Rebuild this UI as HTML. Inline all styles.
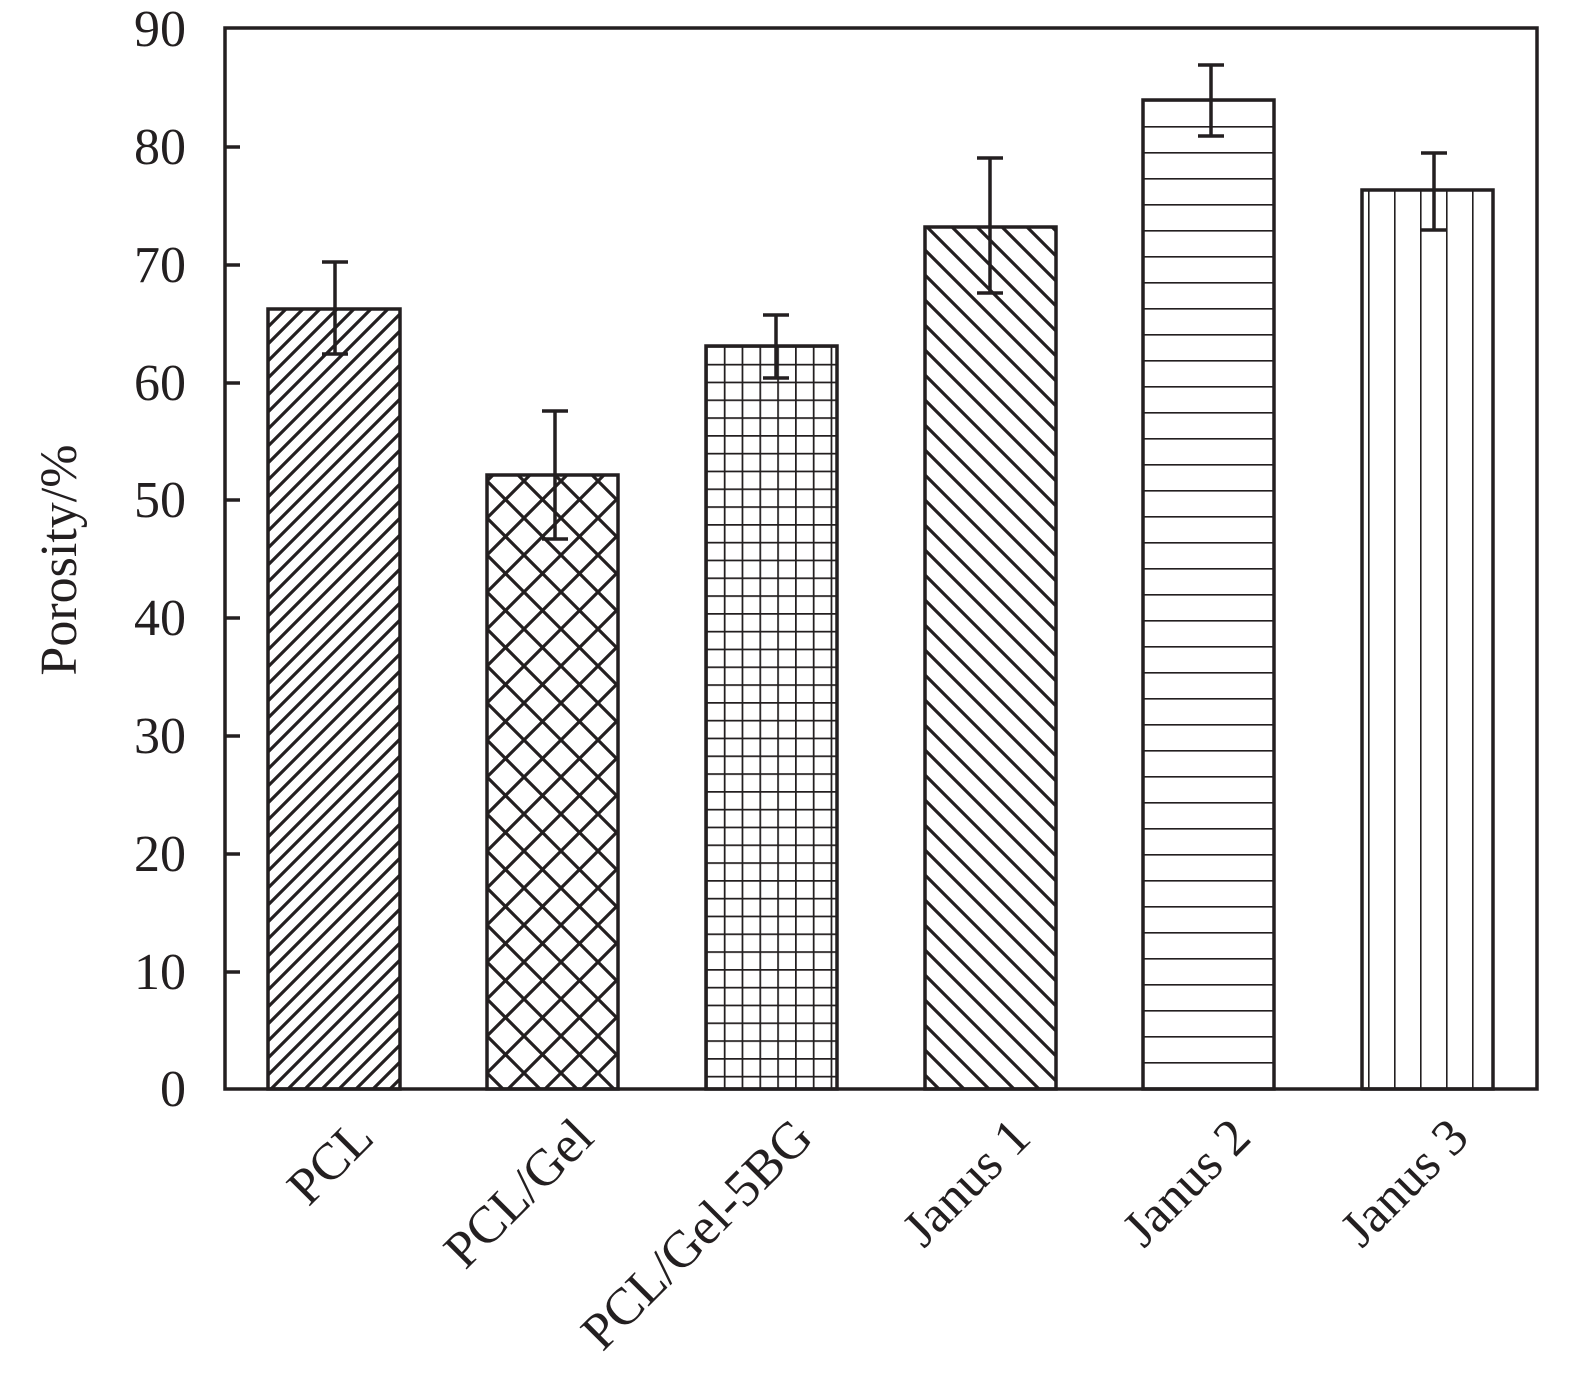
<!DOCTYPE html>
<html><head><style>body{margin:0;background:#fff}svg{display:block}</style></head>
<body>
<svg width="1575" height="1380" viewBox="0 0 1575 1380" xmlns="http://www.w3.org/2000/svg" font-family="Liberation Serif, serif" fill="#231f20">
<defs>
<pattern id="p1" patternUnits="userSpaceOnUse" width="17" height="17"><path d="M-2,19 L19,-2 M-2,2 L2,-2 M15,19 L19,15" stroke="#231f20" stroke-width="3.2"/></pattern>
<pattern id="p2" patternUnits="userSpaceOnUse" width="37" height="37" x="487" y="0"><path d="M0,0 L37,37 M37,0 L0,37" stroke="#231f20" stroke-width="3.2"/></pattern>
<pattern id="p3" patternUnits="userSpaceOnUse" width="17.8" height="17.8" x="706" y="346"><path d="M0,0 H17.8 M0,0 V17.8" stroke="#231f20" stroke-width="3.5" fill="none"/></pattern>
<pattern id="p4" patternUnits="userSpaceOnUse" width="25" height="25" x="925"><path d="M-2,-2 L27,27 M-2,23 L2,27 M23,-2 L27,2" stroke="#231f20" stroke-width="3.2"/></pattern>
<pattern id="p5" patternUnits="userSpaceOnUse" width="100" height="26" y="100"><path d="M0,0 H100" stroke="#231f20" stroke-width="3.2"/></pattern>
<pattern id="p6" patternUnits="userSpaceOnUse" width="26" height="100" x="1368"><path d="M0,0 V100" stroke="#231f20" stroke-width="3.2"/></pattern>
</defs>
<g stroke="#231f20" stroke-width="3.5">
<rect x="268" y="309" width="132" height="780" fill="url(#p1)"/>
<rect x="487" y="475" width="131" height="614" fill="url(#p2)"/>
<rect x="706" y="346" width="131" height="743" fill="url(#p3)"/>
<rect x="925" y="227" width="131" height="862" fill="url(#p4)"/>
<rect x="1143" y="100" width="131" height="989" fill="url(#p5)"/>
<rect x="1362" y="190" width="131" height="899" fill="url(#p6)"/>
<rect x="225" y="28" width="1312" height="1061" fill="none"/>
<path d="M335,262V354M322,262H348M322,354H348
M555,411V539M542,411H568M542,539H568
M776,315V378M763,315H789M763,378H789
M990,158V293M977,158H1003M977,293H1003
M1211,65V136M1198,65H1224M1198,136H1224
M1434,153V230M1421,153H1447M1421,230H1447"/>
<path d="M225,147h15M225,265h15M225,383h15M225,500h15M225,618h15M225,736h15M225,854h15M225,972h15"/>
</g>
<g font-size="52" text-anchor="end">
<text x="186" y="46">90</text><text x="186" y="164">80</text><text x="186" y="282">70</text><text x="186" y="400">60</text><text x="186" y="517">50</text><text x="186" y="635">40</text><text x="186" y="753">30</text><text x="186" y="871">20</text><text x="186" y="989">10</text><text x="186" y="1106">0</text>
</g>
<text transform="translate(76,560) rotate(-90)" font-size="52" text-anchor="middle">Porosity/%</text>
<g font-size="52" text-anchor="end">
<text transform="translate(376,1140) rotate(-45)">PCL</text>
<text transform="translate(596,1140) rotate(-45)">PCL/Gel</text>
<text transform="translate(815,1140) rotate(-45)">PCL/Gel-5BG</text>
<text transform="translate(1033,1140) rotate(-45)">Janus 1</text>
<text transform="translate(1253,1140) rotate(-45)">Janus 2</text>
<text transform="translate(1471,1140) rotate(-45)">Janus 3</text>
</g>
</svg>
</body></html>
